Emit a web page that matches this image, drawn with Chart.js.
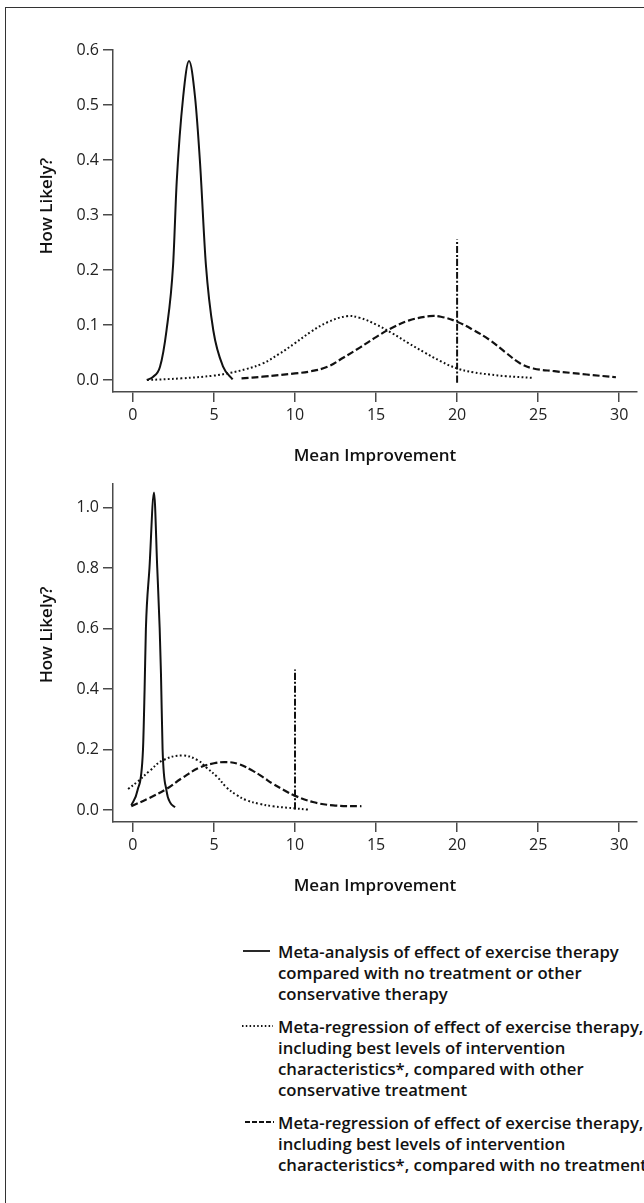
<!DOCTYPE html>
<html>
<head>
<meta charset="utf-8">
<script src="https://cdn.jsdelivr.net/npm/chart.js@4.4.1/dist/chart.umd.min.js"></script>
<style>
  html, body { margin: 0; padding: 0; background: #fff; }
  body { width: 644px; height: 1203px; position: relative; overflow: hidden; font-family: "Open Sans", sans-serif; }
  #frame { position: absolute; left: 5px; top: 7px; width: 700px; height: 1300px; border-left: 1.5px solid #333; border-top: 1.5px solid #333; }
  .wrap { position: absolute; left: 0; width: 644px; }
  #topWrap { top: 0; height: 470px; }
  #bottomWrap { top: 470px; height: 430px; }
  #legend { position: absolute; left: 278px; top: 941px; font-weight: 600; font-size: 16.7px; line-height: 21px; color: #111; white-space: nowrap; }
  .item { position: relative; margin-bottom: 12px; }
  .item svg { position: absolute; top: 8px; }
</style>
</head>
<body>
<div id="frame"></div>
<div class="wrap" id="topWrap"><canvas id="topChart" width="644" height="470"></canvas></div>
<div class="wrap" id="bottomWrap"><canvas id="bottomChart" width="644" height="430"></canvas></div>
<div id="legend"></div>

<script>
// axis ticks
const xTicks = [0, 5, 10, 15, 20, 25, 30];
const topYTicks = [0, 0.1, 0.2, 0.3, 0.4, 0.5, 0.6];
const bottomYTicks = [0, 0.2, 0.4, 0.6, 0.8, 1.0];

const legendLabels = [
    ['Meta-analysis of effect of exercise therapy', 'compared with no treatment or other', 'conservative therapy'],
    ['Meta-regression of effect of exercise therapy,', 'including best levels of intervention', 'characteristics*, compared with other', 'conservative treatment'],
    ['Meta-regression of effect of exercise therapy,', 'including best levels of intervention', 'characteristics*, compared with no treatment']
];

// top panel
const topSolidX = [0.86, 1.25, 1.67, 2.07, 2.48, 2.7, 3.1, 3.46, 3.83, 4.14, 4.5, 4.96, 5.57, 6.15];
const topSolidY = [0.0, 0.006, 0.024, 0.09, 0.21, 0.36, 0.515, 0.58, 0.515, 0.395, 0.21, 0.09, 0.024, 0.001];
const topDotX = [0.86, 3, 5, 6, 7, 8, 9, 10, 11, 12, 13.2, 14, 15, 16, 17, 18, 19, 20, 21, 22, 23, 24.6];
const topDotY = [0.0, 0.003, 0.008, 0.013, 0.02, 0.03, 0.047, 0.067, 0.088, 0.105, 0.116, 0.113, 0.101, 0.085, 0.067, 0.05, 0.034, 0.021, 0.014, 0.01, 0.007, 0.004];
const topDashX = [6.7, 8, 10, 11, 12, 13, 14, 15, 16, 17, 18.3, 19, 20, 21, 22, 23, 23.9, 24.7, 26, 27, 28, 29.8];
const topDashY = [0.003, 0.006, 0.012, 0.016, 0.024, 0.041, 0.059, 0.078, 0.095, 0.108, 0.116, 0.115, 0.106, 0.091, 0.073, 0.05, 0.03, 0.021, 0.016, 0.013, 0.01, 0.005];
const topMarkX = [20, 20];
const topMarkY = [-0.005, 0.256];

// bottom panel
const botSolidX = [-0.1, 0.28, 0.62, 0.72, 0.8, 1.02, 1.3, 1.5, 1.65, 1.73, 1.83, 2.07, 2.3, 2.6];
const botSolidY = [0.016, 0.065, 0.2, 0.4, 0.6, 0.8, 1.05, 0.8, 0.6, 0.45, 0.2, 0.065, 0.025, 0.01];
const botDotX = [-0.3, 0.3, 1.03, 1.85, 3.05, 4.0, 4.53, 5.2, 5.76, 6.4, 7.0, 7.8, 8.64, 10, 10.8];
const botDotY = [0.07, 0.095, 0.13, 0.165, 0.181, 0.165, 0.141, 0.11, 0.076, 0.05, 0.033, 0.021, 0.013, 0.006, 0.002];
const botDashX = [-0.1, 1.0, 2.06, 3.0, 4.12, 5.0, 5.72, 6.5, 7.4, 8.0, 8.64, 9.3, 9.94, 11.1, 12.35, 14.1];
const botDashY = [0.013, 0.04, 0.07, 0.105, 0.141, 0.155, 0.159, 0.153, 0.13, 0.11, 0.087, 0.067, 0.049, 0.027, 0.016, 0.013];
const botMarkX = [10, 10];
const botMarkY = [0.002, 0.465];

const ink = '#111';
const axisColor = '#4a4a4a';
const styles = {
    solid: [],
    dotted: [1.8, 2.4],
    dashed: [7, 3],
    dashDot: [7, 2, 2, 2]
};

const pts = (xs, ys) => xs.map((x, i) => ({ x: x, y: ys[i] }));

// spikes use monotone interpolation, broad curves a plain spline
const line = (xs, ys, dash, spike) => ({
    data: pts(xs, ys),
    borderColor: ink,
    borderWidth: dash.length === 2 && dash[0] > 5 ? 2.2 : 2,
    borderDash: dash,
    pointRadius: 0,
    fill: false,
    cubicInterpolationMode: spike ? 'monotone' : 'default',
    tension: spike ? 0 : 0.4
});

const yTitlePlugin = {
    id: 'yTitle',
    afterDraw(chart, args, opts) {
        const { ctx, chartArea } = chart;
        ctx.save();
        ctx.translate(47, (chartArea.top + chartArea.bottom) / 2 + opts.shift);
        ctx.rotate(-Math.PI / 2);
        ctx.font = '600 17px "Open Sans"';
        ctx.textAlign = 'center';
        ctx.textBaseline = 'middle';
        ctx.fillStyle = ink;
        ctx.fillText(opts.text, 0, 0);
        ctx.restore();
    }
};

function makeChart(id, datasets, yMin, yMax, yTicks, padTop, shift) {
    const canvas = document.getElementById(id);
    return new Chart(canvas, {
        type: 'line',
        data: { datasets: datasets },
        plugins: [yTitlePlugin],
        options: {
            responsive: false,
            animation: false,
            layout: { padding: { top: padTop, right: 7, left: 0, bottom: 0 } },
            plugins: {
                legend: { display: false },
                tooltip: { enabled: false },
                yTitle: { text: 'How Likely?', shift: shift }
            },
            scales: {
                x: {
                    type: 'linear',
                    min: -1.23,
                    max: 31.1,
                    afterFit: s => { s.height = 78; },
                    afterBuildTicks: s => { s.ticks = xTicks.map(v => ({ value: v })); },
                    grid: { drawOnChartArea: false, color: axisColor, lineWidth: 1.5, tickLength: 10 },
                    border: { color: axisColor, width: 1.5 },
                    ticks: { autoSkip: false, maxRotation: 0, padding: 4, color: '#222', font: { family: 'Open Sans', size: 16 }, callback: v => String(v) },
                    title: { display: true, text: 'Mean Improvement', color: ink, font: { family: 'Open Sans', size: 17, weight: '600' }, padding: { top: 0, bottom: 4 } }
                },
                y: {
                    type: 'linear',
                    min: yMin,
                    max: yMax,
                    afterFit: s => { s.width = 113; },
                    afterBuildTicks: s => { s.ticks = yTicks.map(v => ({ value: v })); },
                    grid: { drawOnChartArea: false, color: axisColor, lineWidth: 1.5, tickLength: 10 },
                    border: { color: axisColor, width: 1.5 },
                    ticks: { autoSkip: false, padding: 4, color: '#222', font: { family: 'Open Sans', size: 16 }, callback: v => v.toFixed(1) }
                }
            }
        }
    });
}

makeChart('topChart', [
    line(topSolidX, topSolidY, styles.solid, true),
    line(topDotX, topDotY, styles.dotted),
    line(topDashX, topDashY, styles.dashed),
    line(topMarkX, topMarkY, styles.dashDot)
], -0.0218, 0.6, topYTicks, 50, -15);

makeChart('bottomChart', [
    line(botSolidX, botSolidY, styles.solid, true),
    line(botDotX, botDotY, styles.dotted),
    line(botDashX, botDashY, styles.dashed),
    line(botMarkX, botMarkY, styles.dashDot)
], -0.039, 1.079, bottomYTicks, 8, -18);

// legend, one block per line style
const legendSymbols = [
    { left: -35, width: 27, dash: '' },
    { left: -36, width: 31, dash: '1.5 2.3' },
    { left: -33, width: 29, dash: '5 2' }
];
const legend = document.getElementById('legend');
legendLabels.forEach((lines, i) => {
    const sym = legendSymbols[i];
    const item = document.createElement('div');
    item.className = 'item';
    item.innerHTML =
        '<svg width="' + sym.width + '" height="4" style="left:' + sym.left + 'px">' +
        '<line x1="0" y1="2" x2="' + sym.width + '" y2="2" stroke="' + ink + '" stroke-width="1.8"' +
        (sym.dash ? ' stroke-dasharray="' + sym.dash + '"' : '') + '/></svg>' +
        lines.join('<br>');
    legend.appendChild(item);
});
</script>
</body>
</html>
